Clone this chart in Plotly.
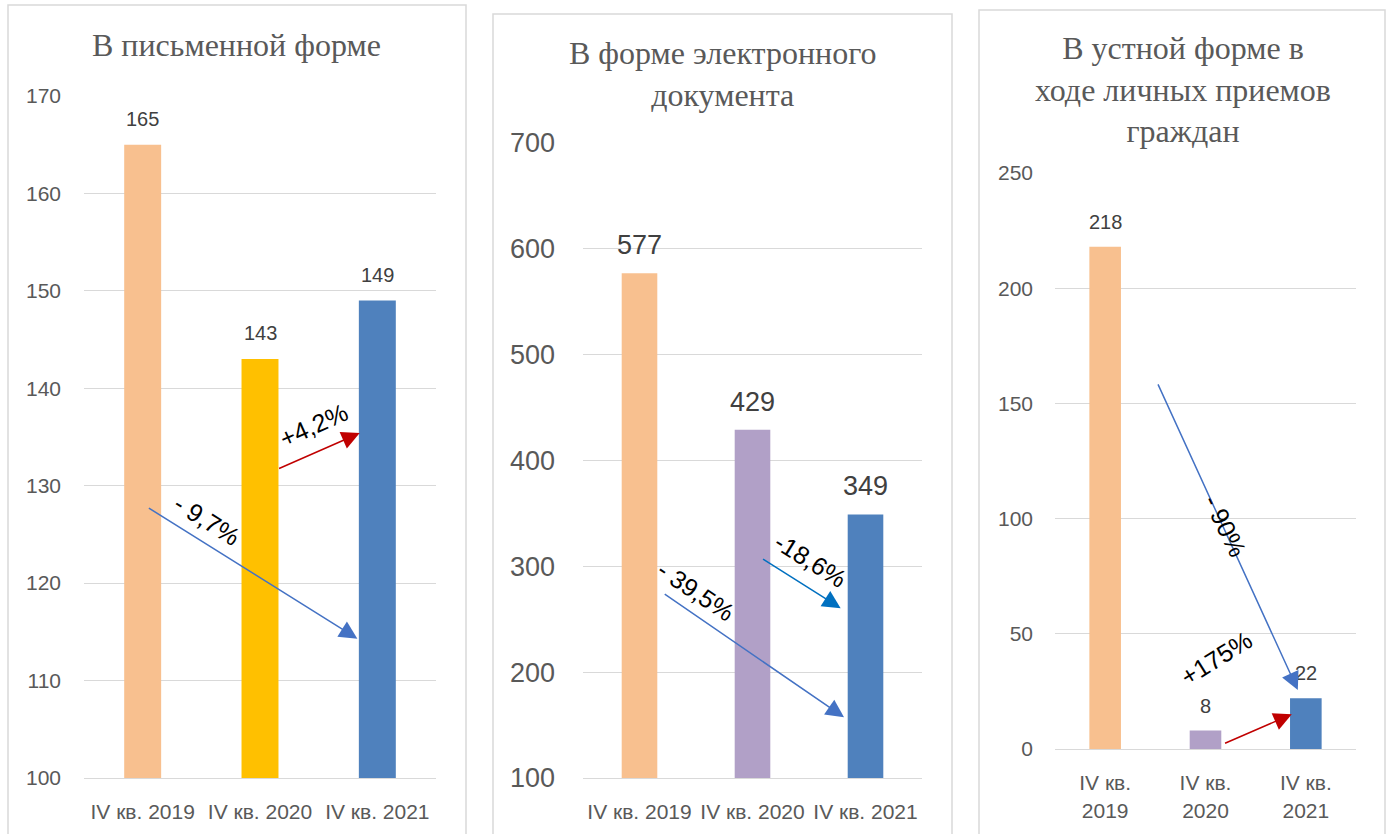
import plotly.graph_objects as go

# ---------------- data ----------------
categories = ["IV кв. 2019", "IV кв. 2020", "IV кв. 2021"]
written = [165, 143, 149]
electronic = [577, 429, 349]
oral = [218, 8, 22]

titles = ["В письменной форме",
          "В форме электронного<br>документа",
          "В устной форме в<br>ходе личных приемов<br>граждан"]

colors_written = ["#F8C08F", "#FFC000", "#4F81BD"]
colors_electronic = ["#F8C08F", "#B1A0C7", "#4F81BD"]
colors_oral = ["#F8C08F", "#B1A0C7", "#4F81BD"]

# change arrows: (from category, from value, to category, to value, label, label pos (cat, value), angle, color)
arrows_written = [
    (0.04, 127.8, 1.83, 114.3, "- 9,7%", 0.55, 126.5, 32, "#4472C4"),
    (1.15, 131.7, 1.85, 135.4, "+4,2%", 1.46, 136.2, -24, "#C00000"),
]
arrows_electronic = [
    (0.21, 274.6, 1.81, 157.4, "- 39,5%", 0.50, 277.0, 34, "#4472C4"),
    (1.08, 307.7, 1.78, 260.4, "-18,6%", 1.51, 306.0, 32, "#0070C0"),
]
arrows_oral = [
    (0.52, 158.9, 1.92, 25.6, "- 90%", 1.20, 97.0, 64, "#4472C4"),
    (1.18, 2.2, 1.86, 15.1, "+175%", 1.11, 39.5, -32, "#C00000"),
]

W, H = 1390, 834
FONT = "Liberation Sans"


def fx(px):
    return px / W


def fy(py):
    return (H - py) / H


fig = go.Figure()

panels = [
    dict(vals=written, colors=colors_written, xd=(84, 436), yd=(778, 96), rng=[100, 170], dt=10,
         tickfs=21, lblfs=20, standoff=22, xstand=15, arrows=arrows_written, title=titles[0],
         tx=236, ty=45, wrap=False, lblshift=26),
    dict(vals=electronic, colors=colors_electronic, xd=(583, 922), yd=(778, 143), rng=[100, 700], dt=100,
         tickfs=27, lblfs=27, standoff=27, xstand=15, arrows=arrows_electronic, title=titles[1],
         tx=722, ty=74, wrap=False, lblshift=28),
    dict(vals=oral, colors=colors_oral, xd=(1055, 1356), yd=(749, 173), rng=[0, 250], dt=50,
         tickfs=21, lblfs=20, standoff=21, xstand=15, arrows=arrows_oral, title=titles[2],
         tx=1183, ty=89, wrap=True, lblshift=25),
]

borders = [(8, 5, 466), (493, 14, 952), (979, 10, 1385)]

annotations = []
shapes = []

for i, p in enumerate(panels):
    n = "" if i == 0 else str(i + 1)
    xa = "x" + n
    ya = "y" + n
    fig.add_trace(go.Bar(
        x=categories, y=p["vals"], marker=dict(color=p["colors"], line=dict(width=0)),
        width=0.315, xaxis=xa, yaxis=ya, showlegend=False, hoverinfo="skip"))
    ticktext = [c.replace(" 20", "<br>20") for c in categories] if p["wrap"] else categories
    fig.update_layout(**{
        "xaxis" + n: dict(domain=[fx(p["xd"][0]), fx(p["xd"][1])], anchor=ya,
                          type="category", tickvals=categories, ticktext=ticktext,
                          showgrid=False, zeroline=False, showline=True, linecolor="#D9D9D9",
                          linewidth=1, ticks="", ticklabelstandoff=p["xstand"], automargin=False,
                          tickfont=dict(family=FONT, size=21, color="#595959"),
                          range=[-0.5, 2.5], fixedrange=True),
        "yaxis" + n: dict(domain=[fy(p["yd"][0]), fy(p["yd"][1])], anchor=xa,
                          range=p["rng"], dtick=p["dt"], tick0=0, showgrid=True,
                          gridcolor="#D9D9D9", gridwidth=1, zeroline=False, showline=False,
                          ticks="", ticklabelstandoff=p["standoff"], automargin=False,
                          tickfont=dict(family=FONT, size=p["tickfs"], color="#595959"),
                          fixedrange=True),
    })
    # value labels
    for c, v in zip(categories, p["vals"]):
        annotations.append(dict(x=c, y=v, xref=xa, yref=ya, text=str(v), showarrow=False,
                                yanchor="middle", yshift=p["lblshift"],
                                font=dict(family=FONT, size=p["lblfs"], color="#404040")))
    # arrows and labels
    for (x0, y0, x1, y1, lab, lx, ly, ang, col) in p["arrows"]:
        annotations.append(dict(x=x1, y=y1, ax=x0, ay=y0, xref=xa, yref=ya, axref=xa, ayref=ya,
                                text="", showarrow=True, arrowhead=2, arrowsize=2.4,
                                arrowwidth=1.5, arrowcolor=col, standoff=0))
        annotations.append(dict(x=lx, y=ly, xref=xa, yref=ya, text=lab, showarrow=False,
                                textangle=ang, font=dict(family=FONT, size=25, color="#000000")))
    # title
    annotations.append(dict(x=fx(p["tx"]), y=fy(p["ty"]), xref="paper", yref="paper",
                            text=p["title"], showarrow=False, xanchor="center", yanchor="middle",
                            font=dict(family="Liberation Serif", size=32, color="#595959")))
    bx0, by0, bx1 = borders[i]
    shapes.append(dict(type="rect", xref="paper", yref="paper", x0=fx(bx0), x1=fx(bx1),
                       y0=-0.05, y1=fy(by0), line=dict(color="#D9D9D9", width=1.5),
                       fillcolor="rgba(0,0,0,0)"))

fig.update_layout(width=W, height=H, margin=dict(l=0, r=0, t=0, b=0, autoexpand=False),
                  paper_bgcolor="white", plot_bgcolor="white",
                  annotations=annotations, shapes=shapes, bargap=0.685)

fig.write_html("out.html", config={"displayModeBar": False},
               post_script="document.body.style.margin='0';document.body.style.overflow='hidden';")
